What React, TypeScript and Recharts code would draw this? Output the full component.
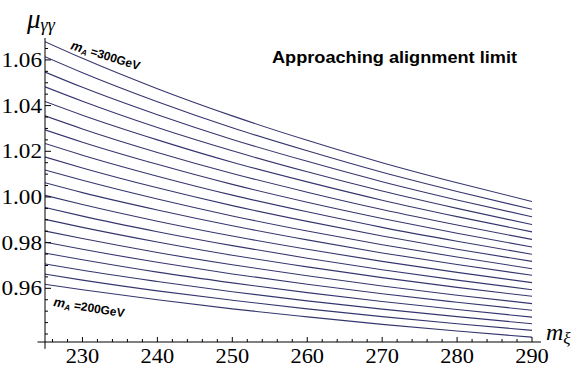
import React from 'react';
import { LineChart, Line, XAxis, YAxis, ReferenceLine } from 'recharts';

// m_xi sample points (GeV)
const mXi = [225, 230, 240, 250, 260, 270, 280, 290];

// mu_gamma-gamma curves, from m_A = 200 GeV (bottom) up to m_A = 300 GeV (top)
const c00 = [0.9618, 0.9594, 0.9550, 0.9510, 0.9475, 0.9442, 0.9413, 0.9386];
const c01 = [0.9662, 0.9636, 0.9589, 0.9548, 0.9510, 0.9476, 0.9445, 0.9416];
const c02 = [0.9707, 0.9679, 0.9630, 0.9585, 0.9545, 0.9509, 0.9476, 0.9445];
const c03 = [0.9754, 0.9725, 0.9671, 0.9624, 0.9581, 0.9542, 0.9507, 0.9474];
const c04 = [0.9802, 0.9771, 0.9714, 0.9663, 0.9618, 0.9576, 0.9539, 0.9504];
const c05 = [0.9851, 0.9818, 0.9757, 0.9703, 0.9655, 0.9610, 0.9570, 0.9533];
const c06 = [0.9902, 0.9867, 0.9803, 0.9745, 0.9694, 0.9647, 0.9604, 0.9565];
const c07 = [0.9954, 0.9916, 0.9848, 0.9787, 0.9732, 0.9681, 0.9636, 0.9594];
const c08 = [1.0007, 0.9967, 0.9894, 0.9829, 0.9771, 0.9718, 0.9670, 0.9625];
const c09 = [1.0062, 1.0019, 0.9943, 0.9874, 0.9812, 0.9755, 0.9704, 0.9657];
const c10 = [1.0118, 1.0073, 0.9991, 0.9917, 0.9851, 0.9791, 0.9737, 0.9686];
const c11 = [1.0175, 1.0127, 1.0040, 0.9962, 0.9893, 0.9829, 0.9771, 0.9718];
const c12 = [1.0234, 1.0183, 1.0091, 1.0008, 0.9935, 0.9867, 0.9806, 0.9749];
const c13 = [1.0294, 1.0240, 1.0143, 1.0055, 0.9977, 0.9906, 0.9841, 0.9781];
const c14 = [1.0355, 1.0298, 1.0195, 1.0103, 1.0021, 0.9945, 0.9877, 0.9814];
const c15 = [1.0418, 1.0358, 1.0250, 1.0152, 1.0066, 0.9986, 0.9914, 0.9847];
const c16 = [1.0482, 1.0419, 1.0304, 1.0202, 1.0110, 1.0026, 0.9950, 0.9879];
const c17 = [1.0547, 1.0480, 1.0360, 1.0252, 1.0156, 1.0067, 0.9987, 0.9913];
const c18 = [1.0614, 1.0544, 1.0417, 1.0303, 1.0202, 1.0108, 1.0024, 0.9946];
const c19 = [1.0680, 1.0607, 1.0474, 1.0355, 1.0248, 1.0150, 1.0062, 0.9980];

const curves = [c00, c01, c02, c03, c04, c05, c06, c07, c08, c09,
  c10, c11, c12, c13, c14, c15, c16, c17, c18, c19];

// ticks (major + minor) and the labelled ones
const xTicks = [226, 228, 230, 232, 234, 236, 238, 240, 242, 244, 246, 248, 250, 252, 254, 256, 258,
  260, 262, 264, 266, 268, 270, 272, 274, 276, 278, 280, 282, 284, 286, 288, 290];
const xLabels = [230, 240, 250, 260, 270, 280, 290];
const yTicks = [0.940, 0.945, 0.950, 0.955, 0.960, 0.965, 0.970, 0.975, 0.980, 0.985, 0.990, 0.995,
  1.000, 1.005, 1.010, 1.015, 1.020, 1.025, 1.030, 1.035, 1.040, 1.045, 1.050, 1.055, 1.060, 1.065];
const yLabels = [0.96, 0.98, 1.00, 1.02, 1.04, 1.06];

const X_DOMAIN = [225, 291.2];
const Y_DOMAIN = [0.9365, 1.0696];

const LINE_COLOR = '#36366f';
const SERIF = '"Liberation Serif", "DejaVu Serif", serif';
const SANS = '"Liberation Sans", Arial, sans-serif';

const data = mXi.map((x, k) => {
  const row: Record<string, number> = { x };
  curves.forEach((c, i) => { row[`c${i}`] = c[k]; });
  return row;
});

const inList = (v: number, list: number[]) => list.some((l) => Math.abs(l - v) < 1e-6);

const XTick = (props: any) => {
  const { x, y, payload } = props;
  const major = inList(payload.value, xLabels);
  return (
    <g>
      <line x1={x} y1={y} x2={x} y2={y - (major ? 5 : 3)} stroke="#000" strokeWidth={1} />
      {major && (
        <text transform={`translate(${x},${y + 21}) scale(1.12,1)`} textAnchor="middle"
          fontFamily={SERIF} fontSize={20} fill="#000">{payload.value}</text>
      )}
    </g>
  );
};

const YTick = (props: any) => {
  const { x, y, payload } = props;
  const major = inList(payload.value, yLabels);
  return (
    <g>
      <line x1={x} y1={y} x2={x + (major ? 6 : 3)} y2={y} stroke="#000" strokeWidth={1} />
      {major && (
        <text transform={`translate(${x - 3},${y + 7}) scale(1.16,1)`} textAnchor="end"
          fontFamily={SERIF} fontSize={20} fill="#000">{payload.value.toFixed(2)}</text>
      )}
    </g>
  );
};

export default function App() {
  return (
    <div style={{ position: 'absolute', left: 0, top: 0, width: 576, height: 373, background: '#fff' }}>
      <LineChart width={576} height={373} data={data}
        margin={{ top: 38, right: 35, bottom: 30, left: 44 }}>
        <XAxis dataKey="x" type="number" domain={X_DOMAIN} ticks={xTicks} interval={0}
          height={1} tickSize={0} tickMargin={0} tick={<XTick />} tickLine={false}
          axisLine={{ stroke: '#000', strokeWidth: 1 }} allowDataOverflow />
        <YAxis type="number" domain={Y_DOMAIN} ticks={yTicks} interval={0}
          width={1} tickSize={0} tickMargin={0} tick={<YTick />} tickLine={false}
          axisLine={{ stroke: '#000', strokeWidth: 1 }} allowDataOverflow />
        {/* Mathematica-style axis crossing at the origin */}
        <ReferenceLine segment={[{ x: 224, y: Y_DOMAIN[0] }, { x: 225, y: Y_DOMAIN[0] }]}
          stroke="#000" strokeWidth={1} ifOverflow="visible" />
        <ReferenceLine segment={[{ x: 225, y: Y_DOMAIN[0] }, { x: 225, y: 0.9335 }]}
          stroke="#000" strokeWidth={1} ifOverflow="visible" />
        {curves.map((_, i) => (
          <Line key={i} dataKey={`c${i}`} type="monotone" stroke={LINE_COLOR} strokeWidth={1.1}
            dot={false} activeDot={false} isAnimationActive={false} />
        ))}
      </LineChart>

      <svg width={576} height={373} style={{ position: 'absolute', left: 0, top: 0, pointerEvents: 'none' }}>
        {/* axis titles */}
        <text x={27} y={28} fontFamily={SERIF} fontStyle="italic" fontSize={27} fill="#000">
          μ<tspan fontSize={18} dy={3}>γγ</tspan>
        </text>
        <text x={546} y={340} fontFamily={SERIF} fontStyle="italic" fontSize={24} fill="#000">
          m<tspan fontSize={17} dy={4}>ξ</tspan>
        </text>

        <text x={272} y={63} fontFamily={SANS} fontWeight="bold" fontSize={16} fill="#000"
          textLength={245} lengthAdjust="spacingAndGlyphs">Approaching alignment limit</text>

        {/* curve labels */}
        <text transform="translate(70,49) rotate(17)" fontFamily={SANS} fontWeight="bold" fontSize={12} fill="#000">
          <tspan fontStyle="italic" fontSize={13}>m</tspan>
          <tspan fontStyle="italic" fontSize={8} dy={2}>A</tspan>
          <tspan dy={-2}> =300GeV</tspan>
        </text>
        <text transform="translate(53,306) rotate(9)" fontFamily={SANS} fontWeight="bold" fontSize={12} fill="#000">
          <tspan fontStyle="italic" fontSize={13}>m</tspan>
          <tspan fontStyle="italic" fontSize={8} dy={2}>A</tspan>
          <tspan dy={-2}> =200GeV</tspan>
        </text>
      </svg>
    </div>
  );
}
